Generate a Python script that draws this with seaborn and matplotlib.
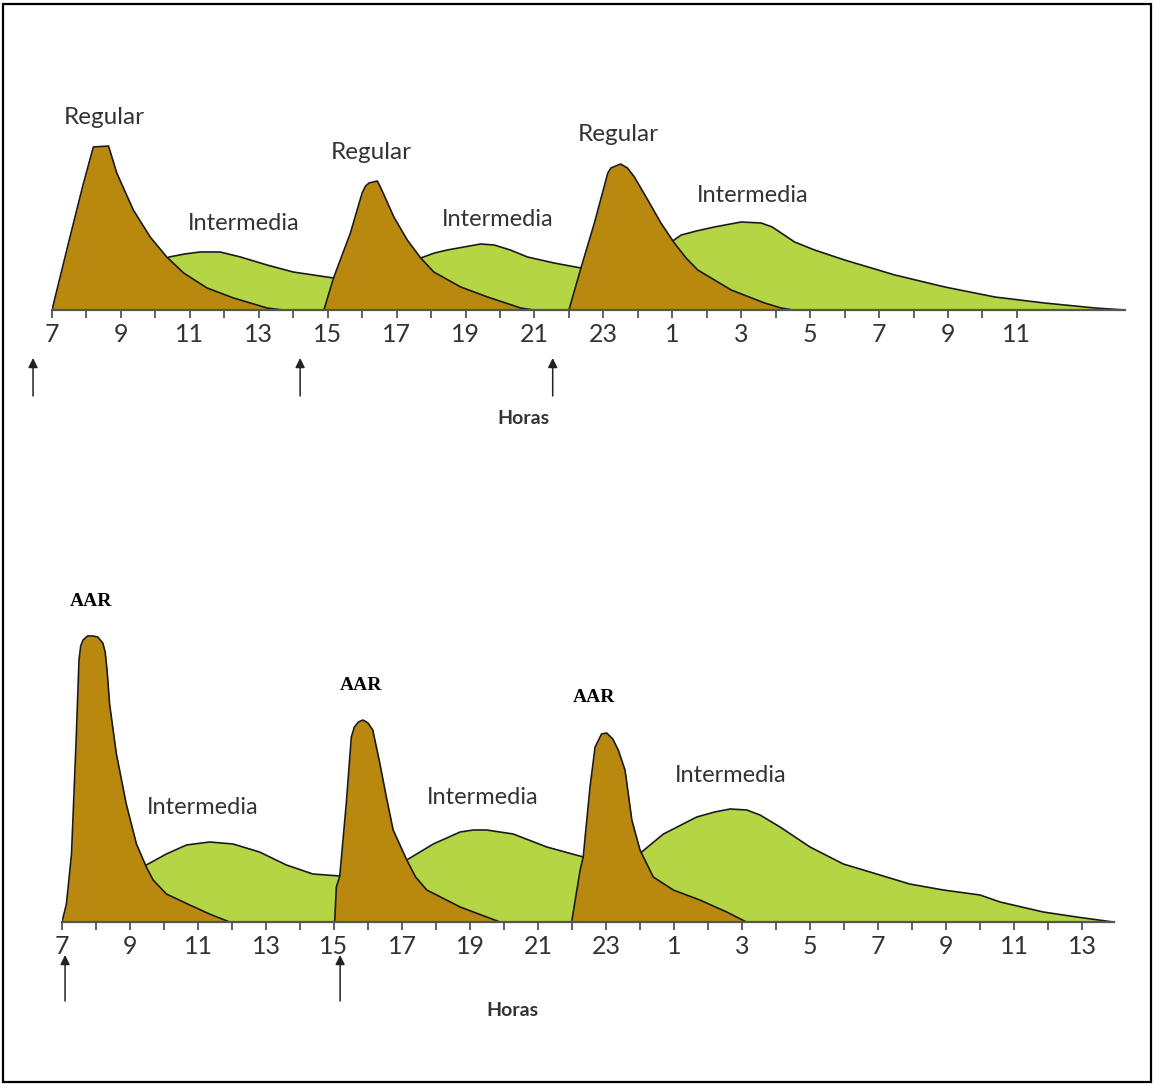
import matplotlib
matplotlib.use("Agg")
import matplotlib.pyplot as plt
import seaborn as sns
import pandas as pd
from matplotlib.patches import Rectangle

# ---- data (hours counted from 7 h of day 1, levels in arbitrary units) ----
top_reg1_t = [7.0, 7.45, 7.9, 8.2, 8.64, 8.88, 9.36, 9.85, 10.33, 10.82, 11.5, 12.27, 13.24, 13.7]
top_reg1_y = [0, 63, 125, 163, 164, 137, 100, 73, 53, 37, 22, 12, 2, 0]
top_reg2_t = [14.89, 15.17, 15.66, 16.0, 16.1, 16.2, 16.44, 16.53, 16.92, 17.31, 17.7, 18.08, 18.86,
              19.64, 20.6, 20.98]
top_reg2_y = [0, 32, 77, 117, 124, 127, 129, 123, 93, 70, 52, 38, 23, 13, 2, 0]
top_reg3_t = [22.0, 22.35, 22.74, 23.13, 23.22, 23.5, 23.7, 23.9, 24.29, 24.67, 25.06, 25.4, 25.74,
              26.71, 27.68, 28.16, 28.5]
top_reg3_y = [0, 42, 87, 137, 142, 146, 142, 133, 110, 87, 67, 52, 40, 20, 7, 2, 0]
top_int_t = [8.0, 10.4, 10.85, 11.3, 11.88, 12.47, 13.24, 14.0, 15.17, 17.7, 18.1, 18.47, 19.44,
             19.83, 20.3, 20.8, 21.57, 22.35, 24.97, 25.26, 25.7, 26.22, 27.0, 27.58, 27.9, 28.16,
             28.55, 29.13, 30.0, 31.46, 32.91, 34.36, 35.8, 37.27, 38.14]
top_int_y = [0, 53, 56, 58, 58, 53, 45, 38, 32, 52, 57, 60, 66, 65, 60, 53, 47, 42, 68, 75, 79, 83,
             88, 87, 83, 77, 68, 60, 50, 35, 23, 13, 7, 2, 0]

bot_aar1_t = [7.0, 7.13, 7.28, 7.42, 7.5, 7.55, 7.62, 7.75, 7.91, 8.05, 8.2, 8.27, 8.33, 8.4, 8.6,
              8.89, 9.19, 9.48, 9.68, 10.07, 10.76, 11.34, 11.93]
bot_aar1_y = [0, 18, 68, 185, 262, 276, 282, 286, 286, 285, 279, 270, 250, 218, 168, 118, 78, 55,
              42, 28, 17, 8, 0]
bot_aar2_t = [15.02, 15.07, 15.17, 15.36, 15.51, 15.6, 15.72, 15.85, 16.0, 16.14, 16.34, 16.54,
              16.74, 17.14, 17.4, 17.73, 18.71, 19.88]
bot_aar2_y = [0, 35, 46, 118, 185, 195, 200, 202, 199, 192, 160, 125, 92, 62, 45, 32, 15, 0]
bot_aar3_t = [21.99, 22.24, 22.33, 22.53, 22.68, 22.87, 23.02, 23.2, 23.36, 23.56, 23.76, 24.0,
              24.39, 24.98, 25.76, 26.55, 27.13]
bot_aar3_y = [0, 52, 65, 135, 175, 188, 189, 183, 172, 152, 102, 72, 45, 32, 22, 10, 0]
bot_int_t = [8.3, 9.48, 10.07, 10.66, 11.34, 12.03, 12.81, 13.6, 14.38, 15.17, 17.14, 17.92, 18.71,
             19.1, 19.49, 20.27, 21.26, 22.33, 24.05, 24.69, 25.67, 26.2, 26.65, 27.14, 27.53,
             28.12, 29.0, 29.98, 30.96, 31.93, 32.92, 34.0, 34.59, 35.86, 36.84, 37.92]
bot_int_y = [0, 57, 68, 77, 80, 78, 70, 57, 48, 46, 62, 78, 90, 92, 92, 88, 75, 65, 70, 88, 105,
             110, 113, 112, 107, 95, 75, 58, 48, 38, 32, 27, 20, 10, 5, 0]

top_ticks = list(range(7, 36))
bot_ticks = list(range(7, 38))
top_labels = ["7", "9", "11", "13", "15", "17", "19", "21", "23", "1", "3", "5", "7", "9", "11"]
bot_labels = top_labels + ["13"]

ORANGE = "#B8890E"
GREEN = "#B4D645"
TXT = "#333333"

sns.set_theme(style="white")
plt.rcParams["font.family"] = ["Lato", "DejaVu Sans"]

fig = plt.figure(figsize=(11.54, 10.84), dpi=100)
W, H = 1154, 1084


def add_ax(left_px, base_px, xmax, ymax, px_per_h):
    width = (xmax - 7) * px_per_h
    ax = fig.add_axes([left_px / W, (H - base_px) / H, width / W, ymax / H])
    ax.set_xlim(7, xmax)
    ax.set_ylim(0, ymax)
    return ax


def area(ax, t, y, color, z):
    ax.fill_between(t, y, 0, color=color, linewidth=0, zorder=z)
    df = pd.DataFrame({"t": t, "y": y})
    sns.lineplot(data=df, x="t", y="y", ax=ax, sort=False, estimator=None,
                 color="#1a1a1a", lw=1.2, zorder=z + 0.5)


def style_axis(ax, ticks, labels):
    for s in ["top", "right", "left"]:
        ax.spines[s].set_visible(False)
    ax.spines["bottom"].set_color("#555555")
    ax.spines["bottom"].set_linewidth(1.6)
    ax.spines["bottom"].set_zorder(10)
    full = []
    it = iter(labels)
    for h in ticks:
        full.append(next(it) if (h - 7) % 2 == 0 else "")
    ax.set_xticks(ticks, full)
    ax.set_yticks([])
    ax.tick_params(axis="x", direction="out", length=6, width=1.3, color="#555555",
                   labelsize=18, labelcolor=TXT, pad=3, bottom=True)
    ax.set_xlabel("")
    ax.set_ylabel("")
    ax.patch.set_alpha(0)


def arrow(ax, x, y0, y1):
    ax.annotate("", xy=(x, y1), xytext=(x, y0), annotation_clip=False,
                arrowprops=dict(arrowstyle="-|>", color="#222222", lw=1.1,
                                mutation_scale=14, shrinkA=0, shrinkB=0))


# ---- top panel ----
ax1 = add_ax(52, 310, 38.15, 200, 34.46)
area(ax1, top_int_t, top_int_y, GREEN, 1)
for t, y in [(top_reg1_t, top_reg1_y), (top_reg2_t, top_reg2_y), (top_reg3_t, top_reg3_y)]:
    area(ax1, t, y, ORANGE, 3)
style_axis(ax1, top_ticks, top_labels)
for x, y in [(8.51, 193), (16.26, 158), (23.42, 176)]:
    ax1.text(x, y, "Regular", ha="center", va="center", fontsize=17.5, color=TXT, clip_on=False)
for x, y in [(12.57, 86), (19.94, 91), (27.34, 114)]:
    ax1.text(x, y, "Intermedia", ha="center", va="center", fontsize=17, color=TXT, clip_on=False)
ax1.text(20.67, -108, "Horas", ha="center", va="center", fontsize=14, fontweight="bold",
         color=TXT, clip_on=False)
for x in [6.45, 14.2, 21.53]:
    arrow(ax1, x, -86, -48)

# ---- bottom panel ----
ax2 = add_ax(62, 922, 37.95, 340, 34.0)
area(ax2, bot_int_t, bot_int_y, GREEN, 1)
for t, y in [(bot_aar1_t, bot_aar1_y), (bot_aar2_t, bot_aar2_y), (bot_aar3_t, bot_aar3_y)]:
    area(ax2, t, y, ORANGE, 3)
style_axis(ax2, bot_ticks, bot_labels)
for x, y in [(7.85, 321), (15.79, 236), (22.65, 225)]:
    ax2.text(x, y, "AAR", ha="center", va="center", fontsize=14, fontweight="bold",
             family="Liberation Serif", color="black", clip_on=False)
for x, y in [(11.15, 114), (19.38, 125), (26.68, 147)]:
    ax2.text(x, y, "Intermedia", ha="center", va="center", fontsize=17, color=TXT, clip_on=False)
ax2.text(20.26, -89, "Horas", ha="center", va="center", fontsize=14, fontweight="bold",
         color=TXT, clip_on=False)
for x in [7.09, 15.18]:
    arrow(ax2, x, -79, -33)

# frame round the whole picture
fig.add_artist(Rectangle((2.5 / W, 2.5 / H), 1148.5 / W, 1078 / H, transform=fig.transFigure,
                         fill=False, edgecolor="black", lw=1.6))

fig.savefig("out.png", dpi=100)
